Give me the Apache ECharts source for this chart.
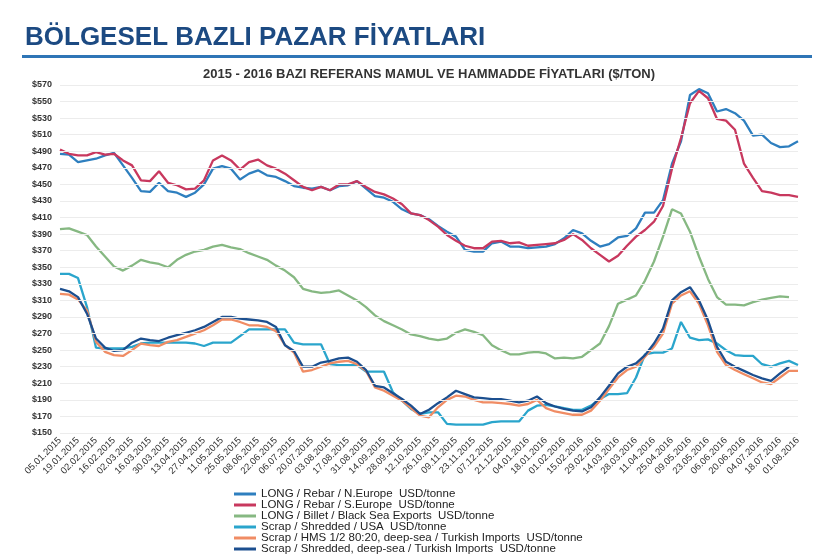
<!DOCTYPE html>
<html>
<head>
<meta charset="utf-8">
<script src="https://cdn.jsdelivr.net/npm/echarts@6/dist/echarts.min.js"></script>
<style>
  html, body { margin: 0; padding: 0; background: #fff; }
  #chart { width: 835px; height: 560px; }
</style>
</head>
<body>
<div id="chart"></div>
<script>
// weekly dates, 05.01.2015 - 01.08.2016
const weeks = [
  '05.01.2015','12.01.2015','19.01.2015','26.01.2015','02.02.2015','09.02.2015','16.02.2015','23.02.2015',
  '02.03.2015','09.03.2015','16.03.2015','23.03.2015','30.03.2015','06.04.2015','13.04.2015','20.04.2015',
  '27.04.2015','04.05.2015','11.05.2015','18.05.2015','25.05.2015','01.06.2015','08.06.2015','15.06.2015',
  '22.06.2015','29.06.2015','06.07.2015','13.07.2015','20.07.2015','27.07.2015','03.08.2015','10.08.2015',
  '17.08.2015','24.08.2015','31.08.2015','07.09.2015','14.09.2015','21.09.2015','28.09.2015','05.10.2015',
  '12.10.2015','19.10.2015','26.10.2015','02.11.2015','09.11.2015','16.11.2015','23.11.2015','30.11.2015',
  '07.12.2015','14.12.2015','21.12.2015','28.12.2015','04.01.2016','11.01.2016','18.01.2016','25.01.2016',
  '01.02.2016','08.02.2016','15.02.2016','22.02.2016','29.02.2016','07.03.2016','14.03.2016','21.03.2016',
  '28.03.2016','04.04.2016','11.04.2016','18.04.2016','25.04.2016','02.05.2016','09.05.2016','16.05.2016',
  '23.05.2016','30.05.2016','06.06.2016','13.06.2016','20.06.2016','27.06.2016','04.07.2016','11.07.2016',
  '18.07.2016','25.07.2016','01.08.2016'
];

const rebarNEurope = [
  487, 486, 477, 479, 481, 485, 488, 473, 458, 442, 441, 452, 442, 440, 435, 440,
  450, 469, 472, 469, 456, 463, 467, 461, 459, 454, 448, 446, 445, 447, 443, 448,
  449, 454, 445, 436, 434, 429, 420, 415, 413, 408, 400, 393, 387, 371, 369, 369,
  379, 381, 375, 375, 373, 374, 375, 378, 385, 395, 391, 382, 375, 378, 386, 388,
  397, 416, 416, 431, 475, 502, 558, 565, 560, 538, 541, 536, 527, 509, 510, 500,
  495, 496, 502
];

const rebarSEurope = [
  492, 487, 485, 485, 489, 486, 487, 479, 473, 455, 454, 466, 452, 449, 444, 445,
  455, 479, 485, 479, 468, 477, 480, 473, 469, 463, 455, 447, 443, 447, 443, 450,
  450, 454, 447, 441, 438, 433, 426, 415, 413, 407, 399, 389, 382, 376, 373, 373,
  381, 382, 379, 380, 376, 377, 378, 379, 383, 390, 383, 373, 365, 357, 364, 376,
  387, 395, 405, 424, 469, 506, 548, 563, 554, 529, 527, 516, 475, 458, 442, 440,
  437, 437, 435
];

const billetBlackSea = [
  396, 397, 393, 389, 375, 363, 351, 346, 352, 359, 356, 354, 350, 359, 365, 369,
  371, 375, 377, 374, 372, 367, 363, 359, 352, 346, 338, 324, 321, 319, 320, 322,
  316, 310, 302, 292, 285, 280, 275, 269, 267, 264, 262, 264, 271, 275, 272, 268,
  256, 250, 245, 245, 247, 248, 246, 240, 241, 240, 242, 250, 258, 279, 306, 311,
  316, 334, 357, 387, 420, 415, 393, 363, 336, 314, 305, 305, 304, 308, 311, 313,
  315, 314, null
];

const scrapUSA = [
  342, 342, 337, 302, 253, 252, 252, 252, 254, 258, 259, 259, 259, 259, 259, 258,
  255, 259, 259, 259, 267, 275, 275, 275, 275, 275, 259, 257, 257, 257, 233, 232,
  232, 232, 224, 224, 224, 199, 189, 179, 173, 175, 175, 161, 160, 160, 160, 160,
  163, 164, 164, 164, 177, 183, 184, 182, 180, 178, 178, 183, 191, 197, 197, 198,
  217, 245, 247, 247, 252, 284, 265, 262, 263, 258, 250, 244, 243, 243, 233, 230,
  234, 237, 232
];

const scrapHMS = [
  318, 317, 311, 298, 260, 248, 244, 243, 250, 258, 256, 255, 260, 262, 266, 270,
  274, 280, 287, 287, 284, 280, 280, 278, 273, 256, 247, 224, 226, 230, 234, 236,
  237, 233, 225, 205, 201, 195, 189, 180, 171, 169, 181, 190, 195, 194, 190, 187,
  187, 186, 185, 183, 185, 190, 180, 176, 174, 172, 172, 177, 189, 203, 217, 226,
  230, 242, 254, 270, 306, 316, 321, 306, 280, 248, 232, 226, 221, 216, 211, 209,
  217, 225, 225
];

const scrapShreddedTR = [
  324, 321, 314, 294, 264, 253, 249, 250, 259, 264, 262, 261, 265, 268, 271, 274,
  278, 284, 290, 290, 288, 287, 286, 284, 278, 256, 249, 230, 230, 235, 237, 240,
  241, 236, 226, 207, 205, 198, 191, 183, 173, 178, 186, 193, 201, 197, 193, 192,
  191, 191, 189, 187, 189, 194, 186, 182, 179, 177, 176, 181, 193, 207, 222, 230,
  234, 244, 258, 276, 310, 320, 326, 310, 286, 254, 236, 230, 225, 220, 216, 213,
  222, 230, null
];

const yTicks = [150, 170, 190, 210, 230, 250, 270, 290, 310, 330, 350, 370, 390, 410, 430, 450, 470, 490, 510, 530, 550, 570];

const seriesNames = [
  'LONG / Rebar / N.Europe  USD/tonne',
  'LONG / Rebar / S.Europe  USD/tonne',
  'LONG / Billet / Black Sea Exports  USD/tonne',
  'Scrap / Shredded / USA  USD/tonne',
  'Scrap / HMS 1/2 80:20, deep-sea / Turkish Imports  USD/tonne',
  'Scrap / Shredded, deep-sea / Turkish Imports  USD/tonne'
];
const seriesData = [rebarNEurope, rebarSEurope, billetBlackSea, scrapUSA, scrapHMS, scrapShreddedTR];
const colors = ['#2e7fbf', '#c8385e', '#86b882', '#2aa5cc', '#f08c64', '#1c4f8f'];

var dom = document.getElementById('chart');
var myChart = echarts.init(dom, null, { renderer: 'canvas' });

var lineSeries = seriesNames.map(function (name, i) {
    return {
        name: name,
        type: 'line',
        data: seriesData[i],
        symbol: 'none',
        z: 3,
        lineStyle: { width: 2.3, color: colors[i] },
        itemStyle: { color: colors[i] }
    };
});

// faint horizontal grid at the labelled ticks
lineSeries.unshift({
    type: 'line',
    data: [],
    z: 1,
    silent: true,
    markLine: {
        silent: true,
        symbol: ['none', 'none'],
        label: { show: false },
        lineStyle: { color: '#ececec', width: 1, type: 'solid' },
        data: yTicks.map(function (v) { return { yAxis: v }; })
    }
});

var option = {
    animation: false,
    color: colors,
    title: [
        {
            text: 'BÖLGESEL BAZLI PAZAR FİYATLARI',
            left: 20,
            top: 20,
            textStyle: {
                color: '#1c4a82',
                fontFamily: 'Liberation Sans, Arial, sans-serif',
                fontSize: 26,
                fontWeight: 'bold'
            }
        },
        {
            text: '2015 - 2016 BAZI REFERANS MAMUL VE HAMMADDE FİYATLARI ($/TON)',
            left: 424,
            textAlign: 'center',
            top: 63,
            textStyle: {
                color: '#333333',
                fontFamily: 'Liberation Sans, Arial, sans-serif',
                fontSize: 13,
                fontWeight: 'bold'
            }
        }
    ],
    graphic: [
        {
            type: 'rect',
            shape: { x: 22, y: 55, width: 790, height: 3 },
            style: { fill: '#2e75b6' }
        }
    ],
    legend: {
        orient: 'vertical',
        left: 229,
        top: 483,
        height: 120,
        itemWidth: 22,
        itemHeight: 3,
        itemGap: -1,
        icon: 'rect',
        data: seriesNames,
        textStyle: {
            color: '#222222',
            fontFamily: 'Liberation Sans, Arial, sans-serif',
            fontSize: 11.5,
            lineHeight: 11
        }
    },
    grid: {
        left: 60,
        right: 37,
        top: 85,
        bottom: 127,
        containLabel: false
    },
    xAxis: {
        type: 'category',
        boundaryGap: false,
        data: weeks,
        axisLine: { show: false },
        axisTick: { show: false },
        axisLabel: {
            interval: 1,
            rotate: 45,
            margin: 6,
            color: '#333333',
            fontFamily: 'Liberation Sans, Arial, sans-serif',
            fontSize: 9.5
        }
    },
    yAxis: {
        type: 'value',
        min: 150,
        max: 570,
        interval: 10,
        axisLine: { show: false },
        axisTick: { show: false },
        splitLine: { show: false },
        axisLabel: {
            margin: 8,
            color: '#333333',
            fontFamily: 'Liberation Sans, Arial, sans-serif',
            fontSize: 9,
            fontWeight: 'bold',
            formatter: function (v) {
                return yTicks.indexOf(v) >= 0 ? '$' + v : '';
            }
        }
    },
    series: lineSeries
};

myChart.setOption(option);
window.addEventListener('resize', myChart.resize);
</script>
</body>
</html>
